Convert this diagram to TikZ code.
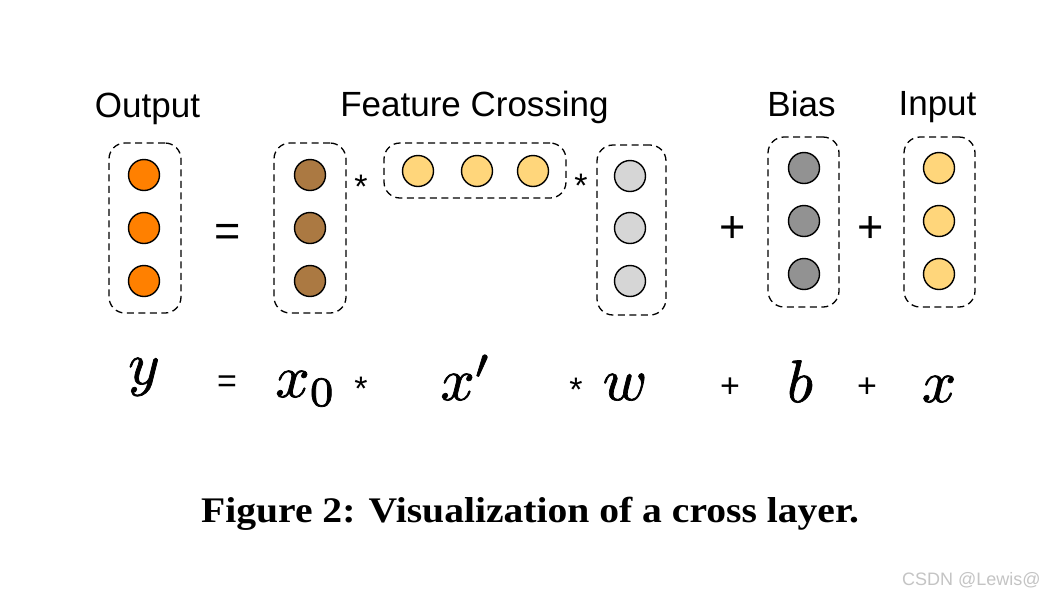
\documentclass[tikz,border=0pt]{standalone}
\usepackage{graphicx}
\usepackage{fontspec}
\newfontfamily\sansf{Liberation Sans}
\newfontfamily\capf{Liberation Serif}
\definecolor{orng}{HTML}{FF8000}
\definecolor{brwn}{HTML}{AB7942}
\definecolor{ylw}{HTML}{FFD67B}
\definecolor{lgray}{HTML}{D6D6D6}
\definecolor{mgray}{HTML}{929292}
\definecolor{wmark}{HTML}{C4C4C4}
\newcommand{\mathbigsym}[1]{\scalebox{6}{\fontsize{10}{12}\selectfont\special{pdf:literal direct 2 Tr 0.12 w}$#1$\special{pdf:literal direct 0 Tr}}}
\begin{document}
\begin{tikzpicture}[x=1pt,y=-1pt,
  dot/.style={circle,draw=black,line width=1.4pt,minimum size=31pt,inner sep=0pt},
  grp/.style={draw=black,line width=1.3pt,dash pattern=on 7pt off 4.5pt,rounded corners=16pt,inner sep=0pt},
  lbl/.style={font=\sansf\fontsize{35}{40}\selectfont,anchor=base,inner sep=0pt},
  bigop/.style={font=\sansf\fontsize{45}{50}\selectfont,anchor=base,inner sep=0pt},
  smop/.style={font=\sansf\fontsize{34}{40}\selectfont,anchor=base,inner sep=0pt},
  mth/.style={anchor=base,inner sep=0pt}]
\path[fill=white] (0,0) rectangle (1044,598);
\useasboundingbox (0,0) rectangle (1044,598);

% labels
\node[lbl] (lout) at (147.5,117) {Output};
\node[lbl] (lfc) at (474.5,116) {Feature Crossing};
\node[lbl] (lbias) at (801.5,116) {Bias};
\node[lbl] (linp) at (937.5,115) {Input};

% group boxes
\node[grp,minimum width=72pt,minimum height=170pt] (gout) at (145,228) {};
\node[grp,minimum width=72pt,minimum height=170pt] (gx0) at (310,228) {};
\node[grp,minimum width=182pt,minimum height=55pt] (gfc) at (475,170.5) {};
\node[grp,minimum width=69pt,minimum height=170pt] (gw) at (631.5,230) {};
\node[grp,minimum width=71pt,minimum height=170pt] (gb) at (803.5,222) {};
\node[grp,minimum width=71pt,minimum height=170pt] (gin) at (939.5,222) {};

% circles
\foreach \i/\yy in {1/175,2/228,3/281} {
  \node[dot,fill=orng] (o\i) at (144,\yy) {};
  \node[dot,fill=brwn] (x\i) at (310,\yy) {};
}
\foreach \i/\xx in {1/418,2/477,3/533} {
  \node[dot,fill=ylw] (f\i) at (\xx,171) {};
}
\foreach \i/\yy in {1/176,2/228,3/281} {
  \node[dot,fill=lgray] (w\i) at (630,\yy) {};
}
\foreach \i/\yy in {1/168,2/221,3/274} {
  \node[dot,fill=mgray] (b\i) at (804,\yy) {};
  \node[dot,fill=ylw] (n\i) at (939,\yy) {};
}

% top row operators
\node[bigop] (eq1) at (228,246) {=};
\node[smop] (st1) at (361,198) {*};
\node[smop] (st2) at (581,197) {*};
\node[bigop] (pl1) at (733,242) {+};
\node[bigop] (pl2) at (871,242) {+};

% math row
\node[mth] (my) at (144,384) {\mathbigsym{y}};
\node[smop] (eq2) at (227,392) {=};
\node[mth] (mx0) at (306,397) {\mathbigsym{x_0}};
\node[smop] (st3) at (361,400) {*};
\node[mth] (mxp) at (466,400) {\mathbigsym{x'}};
\node[smop] (st4) at (576,401) {*};
\node[mth] (mw) at (625,400) {\mathbigsym{w}};
\node[smop] (pl3) at (730,397) {+};
\node[mth] (mb) at (800,402) {\mathbigsym{b}};
\node[smop] (pl4) at (867,397) {+};
\node[mth] (mx) at (939,402) {\mathbigsym{x}};

% caption
\node[anchor=base,inner sep=0pt,font=\capf\bfseries\fontsize{36}{40}\selectfont] (cap) at (530,522)
  {\scalebox{1.1}[1]{Figure 2: Visualization of a cross layer.}};

% watermark
\node[anchor=base,inner sep=0pt,text=wmark,font=\sansf\fontsize{18}{20}\selectfont] (wm) at (971.5,585) {CSDN @Lewis@};
\end{tikzpicture}
\end{document}
